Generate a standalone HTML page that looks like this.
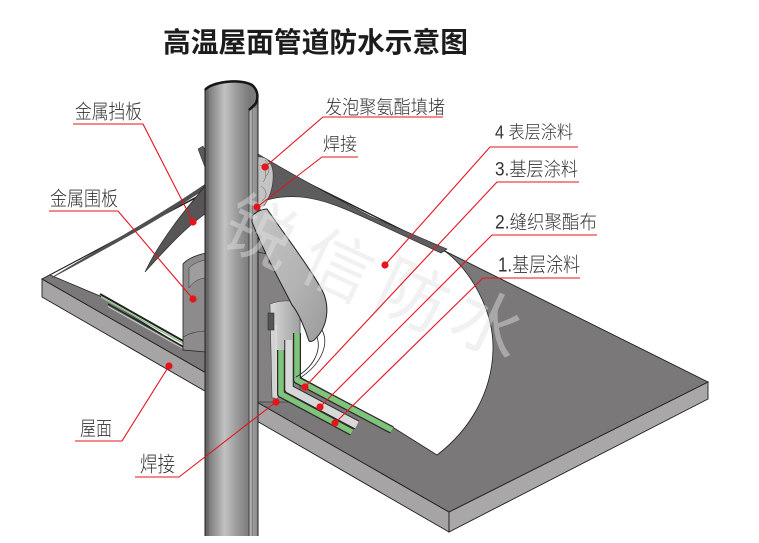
<!DOCTYPE html>
<html><head><meta charset="utf-8">
<style>
html,body{margin:0;padding:0;background:#fff;}
svg{display:block;}
.lb{font-family:"Liberation Sans","Noto Sans CJK SC",sans-serif;fill:#333;font-weight:300;}
.tt{font-family:"Liberation Sans","Noto Sans CJK SC",sans-serif;fill:#1c1c1c;font-weight:700;}
.wm{font-family:"Noto Sans CJK SC",sans-serif;fill:#e2e2e2;opacity:0.45;}
</style></head><body>
<svg width="759" height="543" viewBox="0 0 759 543" xmlns="http://www.w3.org/2000/svg">
<defs>
<linearGradient id="pipeG" x1="205" x2="249" y1="0" y2="0" gradientUnits="userSpaceOnUse">
 <stop offset="0" stop-color="#5a5a5a"/>
 <stop offset="0.1" stop-color="#7e7e7e"/>
 <stop offset="0.45" stop-color="#c2c2c2"/>
 <stop offset="0.7" stop-color="#9e9e9e"/>
 <stop offset="1" stop-color="#7a7a7a"/>
</linearGradient>
<linearGradient id="stripG" x1="0" x2="1" y1="0" y2="0">
 <stop offset="0" stop-color="#b4b4b4"/>
 <stop offset="1" stop-color="#858585"/>
</linearGradient>
<linearGradient id="flapG" x1="0" x2="1" y1="0" y2="1">
 <stop offset="0" stop-color="#c6c6c6"/>
 <stop offset="0.6" stop-color="#b2b2b2"/>
 <stop offset="1" stop-color="#9a9a9a"/>
</linearGradient>
<linearGradient id="cylG" x1="0" x2="1" y1="0" y2="0">
 <stop offset="0" stop-color="#d8d8d8"/>
 <stop offset="1" stop-color="#a0a0a0"/>
</linearGradient>
</defs>

<!-- slab -->
<polygon points="42,279 449,512 449,532 42,297" fill="#a6a4a4" stroke="#1e1e1e" stroke-width="0.9"/>
<polygon points="449,512 708,382 708,399 449,532" fill="#a9a7a7" stroke="#1e1e1e" stroke-width="0.9"/>
<polygon points="42,279 264,161 708,382 449,512" fill="#7a7878" stroke="#1e1e1e" stroke-width="0.9"/>

<!-- white membrane -->
<path d="M50,275 L264,162 L446,252 C470,270 494,310 493,350 C492,392 470,430 437,455 L394,428 L298,376 L298,300 L183,347 L100,296 Z" fill="#fff" stroke="#222" stroke-width="0.8"/>

<!-- left edge metal bars -->
<line x1="100" y1="294" x2="185" y2="342" stroke="#222" stroke-width="2"/>
<line x1="101" y1="297" x2="185" y2="344.5" stroke="#8cc68a" stroke-width="1.5"/>
<line x1="108" y1="304" x2="184" y2="347" stroke="#222" stroke-width="1.5"/>
<line x1="108" y1="306.5" x2="184" y2="349" stroke="#cfcfcf" stroke-width="1"/>

<!-- baffle pieces -->
<path d="M52,277 C100,248 160,215 205,184 L205,189 C160,220 100,252 52,278 Z" fill="#4f4f4f"/>
<path d="M258,154 C285,170 330,195 370,216 L447,249 L441,253 L372,221 C350,211 325,199 300,197 C285,196 270,198 259,203 Z" fill="#5e5c5c" stroke="#222" stroke-width="0.6"/>
<path d="M205,186 C185,210 160,240 145,272 C165,250 185,228 205,214 Z" fill="#575555" stroke="#222" stroke-width="0.6"/>
<path d="M206,170 L198,149 L203,146 L206,152 Z" fill="#5a5a5a" stroke="#222" stroke-width="0.5"/>

<!-- coaming left -->
<path d="M183,264 C188,258 197,255 206,253 L206,352 L183,350 Z" fill="#8d8b8b" stroke="#222" stroke-width="0.8"/>
<path d="M189,268 C194,263 200,261 206,260 L206,278 C199,278 193,282 189,288 Z" fill="#9f9d9d" stroke="#333" stroke-width="0.5"/>
<path d="M183,337 C190,333 198,331 206,331" fill="none" stroke="#333" stroke-width="0.6"/>

<!-- coaming right -->
<path d="M257,205 L275,230 L293,282 L300,300 L300,402 L257,402 Z" fill="#838181" stroke="#222" stroke-width="0.6"/>
<path d="M257,252 C272,254 287,262 293,282" fill="none" stroke="#333" stroke-width="0.7"/>
<path d="M270,304 C280,300 292,300 300,303 L300,372 L278,398 L272,398 Z" fill="url(#cylG)" stroke="#333" stroke-width="0.5"/>
<rect x="268" y="313" width="6" height="17" fill="#555" stroke="#222" stroke-width="0.5"/>
<line x1="276" y1="325" x2="276" y2="400" stroke="#dcdcdc" stroke-width="1.5"/>

<!-- layered L strips -->
<polyline points="281,350 281,394 352,432" fill="none" stroke="#2b2b2b" stroke-width="8" stroke-linejoin="round"/>
<polyline points="281,350 281,394 352,432" fill="none" stroke="#80c47c" stroke-width="5.5" stroke-linejoin="round"/>
<polyline points="289,340 289,389 357,425" fill="none" stroke="#2b2b2b" stroke-width="9.5" stroke-linejoin="round"/>
<polyline points="289,340 289,389 357,425" fill="none" stroke="#d8d8d8" stroke-width="7.5" stroke-linejoin="round"/>
<polyline points="297,333 297,380 392,430" fill="none" stroke="#2b2b2b" stroke-width="8" stroke-linejoin="round"/>
<polyline points="297,333 297,380 392,430" fill="none" stroke="#80c47c" stroke-width="5.5" stroke-linejoin="round"/>

<!-- pipe -->
<path d="M205,536 L205,90 C211,82 240,78 252,85 C257,89 258,94 258,100 L258,536 Z" fill="url(#pipeG)"/>
<rect x="249" y="108" width="9" height="428" fill="url(#stripG)"/>
<line x1="205" y1="90" x2="205" y2="536" stroke="#222" stroke-width="1"/>
<line x1="208" y1="92" x2="208" y2="536" stroke="#555" stroke-width="0.5"/>
<line x1="249" y1="109" x2="249" y2="536" stroke="#333" stroke-width="0.8"/>
<line x1="252.5" y1="104" x2="252.5" y2="536" stroke="#555" stroke-width="0.5"/>
<line x1="258" y1="98" x2="258" y2="536" stroke="#222" stroke-width="1"/>
<path d="M205,90 C211,82 240,78 252,85 C257,89 259,96 256,103 C254,106 251,108 249,110" fill="none" stroke="#151515" stroke-width="2.5"/>

<!-- foam -->
<path d="M258,157 C266,156 272,162 273,172 C274,185 270,197 264,206 L258,206 Z" fill="#c4c4c4" stroke="#333" stroke-width="0.6"/>
<path d="M260,165 C266,168 268,176 263,182 M261,186 C267,190 268,196 262,201 M265,160 C270,166 270,172 266,176" fill="none" stroke="#555" stroke-width="0.5"/>

<!-- front flap -->
<path d="M252,216 C257,211 262,209 267,209 C285,235 310,268 322,290 C330,305 328,325 317,337 C314,341 311,342 309,341 C305,328 298,312 292,305 C282,285 265,255 252,222 Z" fill="url(#flapG)" stroke="#222" stroke-width="1"/>
<path d="M322,330 C330,345 320,365 300,378 M317,337 C322,352 312,368 296,377" fill="none" stroke="#222" stroke-width="0.8"/>

<!-- watermark -->
<text class="wm" font-size="70" text-anchor="middle" dominant-baseline="central" transform="translate(262,228) rotate(25)">锐</text>
<text class="wm" font-size="70" text-anchor="middle" dominant-baseline="central" transform="translate(340,262) rotate(25)">信</text>
<text class="wm" font-size="70" text-anchor="middle" dominant-baseline="central" transform="translate(415,292) rotate(25)">防</text>
<text class="wm" font-size="70" text-anchor="middle" dominant-baseline="central" transform="translate(490,320) rotate(25)">水</text>

<!-- title -->
<text class="tt" x="163" y="52" font-size="28" textLength="305" lengthAdjust="spacingAndGlyphs">高温屋面管道防水示意图</text>

<!-- leaders -->
<g fill="none" stroke="#e3141e" stroke-width="1.1">
<polyline points="73,124 143,124 193,222"/>
<polyline points="49,211 118,211 193,299"/>
<polyline points="75,441 122,441 169,366"/>
<polyline points="135,477 179,477 276,402"/>
<polyline points="443,117 323,117 265,167"/>
<polyline points="358,157 322,157 257,207"/>
<polyline points="578,147 490,147 385,265"/>
<polyline points="579,182 497,182 305,387"/>
<polyline points="597,235 492,235 320,407"/>
<polyline points="580,278 483,278 335,423"/>
</g>
<g fill="#e8141c">
<circle cx="193" cy="222" r="3.6"/>
<circle cx="193" cy="299" r="3.6"/>
<circle cx="169" cy="366" r="3.6"/>
<circle cx="276" cy="402" r="3.6"/>
<circle cx="265" cy="167" r="3.6"/>
<circle cx="257" cy="207" r="3.6"/>
<circle cx="385" cy="265" r="3.6"/>
<circle cx="305" cy="387" r="3.6"/>
<circle cx="320" cy="407" r="3.6"/>
<circle cx="335" cy="423" r="3.6"/>
</g>

<!-- labels -->
<text class="lb" x="75" y="118.5" font-size="20" textLength="67" lengthAdjust="spacingAndGlyphs">金属挡板</text>
<text class="lb" x="50" y="205.5" font-size="20" textLength="68" lengthAdjust="spacingAndGlyphs">金属围板</text>
<text class="lb" x="80" y="435.5" font-size="20" textLength="32" lengthAdjust="spacingAndGlyphs">屋面</text>
<text class="lb" x="140" y="471.5" font-size="21" textLength="35" lengthAdjust="spacingAndGlyphs">焊接</text>
<text class="lb" x="325" y="113.5" font-size="19" textLength="120" lengthAdjust="spacingAndGlyphs">发泡聚氨酯填堵</text>
<text class="lb" x="323" y="150.5" font-size="18" textLength="34" lengthAdjust="spacingAndGlyphs">焊接</text>
<text class="lb" x="495" y="138.5" font-size="18" textLength="78" lengthAdjust="spacingAndGlyphs">4 表层涂料</text>
<text class="lb" x="495" y="175.5" font-size="19" textLength="83" lengthAdjust="spacingAndGlyphs">3.基层涂料</text>
<text class="lb" x="495" y="228.5" font-size="19" textLength="102" lengthAdjust="spacingAndGlyphs">2.缝织聚酯布</text>
<text class="lb" x="498" y="271.5" font-size="20" textLength="82" lengthAdjust="spacingAndGlyphs">1.基层涂料</text>
</svg>
</body></html>
